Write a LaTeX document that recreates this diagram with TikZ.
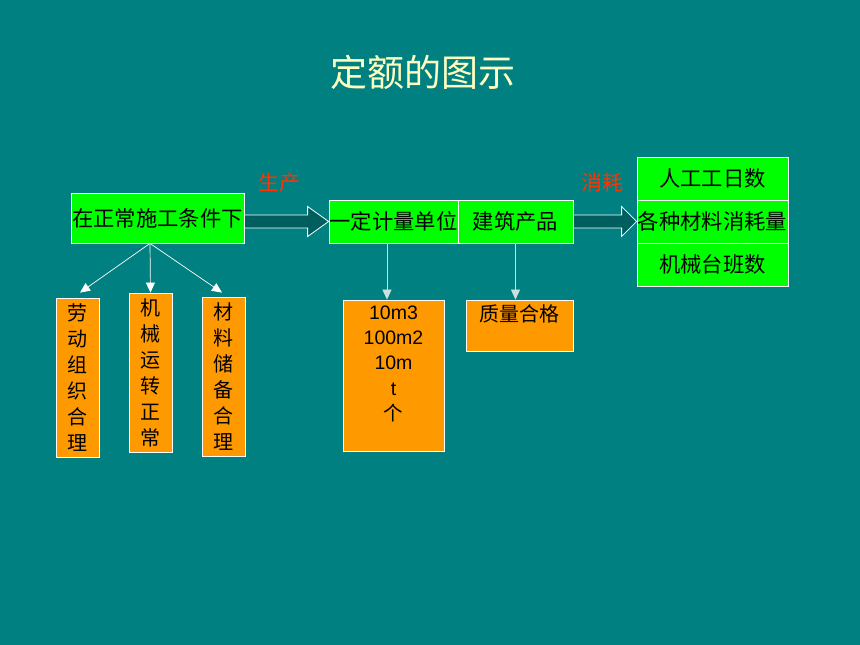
\documentclass[tikz,border=0pt]{standalone}
\usepackage{fontspec}
\setmainfont{Liberation Sans}
\newfontfamily\cjk{Noto Sans CJK SC}
\usetikzlibrary{arrows.meta}
\usetikzlibrary{calc}
\definecolor{bgteal}{rgb}{0,0.5,0.5}
\definecolor{boxgreen}{rgb}{0,1,0}
\definecolor{boxorange}{rgb}{1,0.6,0}
\definecolor{labelred}{rgb}{1,0.2,0}
\definecolor{titleyellow}{rgb}{1,1,0.75}
\definecolor{arrowteal}{rgb}{0,0.37,0.37}
\definecolor{linegrey}{rgb}{0.8,0.88,0.88}

\begin{document}
\begin{tikzpicture}[x=1pt,y=-1pt,line join=miter]
\tikzset{
greenbox/.style={draw=white, fill=boxgreen, line width=0.8pt, inner sep=0pt, text=black, font=\cjk\fontsize{21.3}{24}\selectfont},
orangebox/.style={draw=white, fill=boxorange, line width=0.8pt, inner sep=0pt, text=black, align=center, font=\cjk\fontsize{20}{26}\selectfont},
blockarrow/.style={draw=white, fill=arrowteal, line width=0.8pt},
thinarrow/.style={draw=white, line width=0.7pt, -{Triangle[length=10pt,width=9pt]}},
redlabel/.style={text=labelred, font=\cjk\fontsize{21}{24}\selectfont}
}
\fill[bgteal] (0,0) rectangle (860,645);
\useasboundingbox (0,0) rectangle (860,645);
% title
\node[text=titleyellow, font=\cjk\fontsize{37}{40}\selectfont] (title) at (423,72) {定额的图示};
% top row
\node[greenbox, minimum width=173, minimum height=50] (cond) at (157.5,218) {在正常施工条件下};
\node[greenbox, minimum width=129, minimum height=43] (unit) at (393.5,221.5) {一定计量单位};
\node[greenbox, minimum width=115, minimum height=43] (prod) at (515.5,221.5) {建筑产品};
\node[greenbox, minimum width=151, minimum height=43] (labour) at (712.5,178.5) {人工工日数};
\node[greenbox, minimum width=151, minimum height=43] (material) at (712.5,221.5) {各种材料消耗量};
\node[greenbox, minimum width=151, minimum height=43] (machine) at (712.5,264.5) {机械台班数};
\node[redlabel] (make) at (279,183) {生产};
\node[redlabel] (use) at (602,183) {消耗};
% block arrows
\draw[blockarrow] ($(cond.east|-unit.west)+(0,-6.5)$) -- ($(unit.west)+(-21,-6.5)$) -- ($(unit.west)+(-21,-15)$) -- (unit.west) -- ($(unit.west)+(-21,15)$) -- ($(unit.west)+(-21,6.5)$) -- ($(cond.east|-unit.west)+(0,6.5)$) -- cycle;
\draw[blockarrow] ($(prod.east)+(0,-6.5)$) -- ($(material.west)+(-15,-6.5)$) -- ($(material.west)+(-15,-15)$) -- (material.west) -- ($(material.west)+(-15,15)$) -- ($(material.west)+(-15,6.5)$) -- ($(prod.east)+(0,6.5)$) -- cycle;
% lower boxes
\node[orangebox, minimum width=43, minimum height=159] (org) at (77.5,377.5) {劳\\动\\组\\织\\合\\理};
\node[orangebox, minimum width=43, minimum height=159] (run) at (150.5,372.5) {机\\械\\运\\转\\正\\常};
\node[orangebox, minimum width=43, minimum height=159] (store) at (223.5,376.5) {材\\料\\储\\备\\合\\理};
\node[orangebox, minimum width=101, minimum height=151] (units) at (393.5,375.5) {};
\node[anchor=north, align=center, text=black, font=\fontsize{19.5}{25.3}\selectfont] (unitstext) at ($(units.north)+(0,2.5)$) {10m3\\100m2\\10m\\t\\{\cjk 个}};
\node[orangebox, minimum width=107, minimum height=51] (quality) at (519.5,325.5) {};
\node[anchor=north, text=black, font=\cjk\fontsize{20}{24}\selectfont] (qualitytext) at ($(quality.north)+(0,1.5)$) {质量合格};
% thin arrows
\coordinate (fork) at ($(cond.south)+(-7.5,0)$);
\draw[thinarrow] (fork) -- ($(org.north)+(2.5,-5)$);
\draw[thinarrow] (fork) -- (run.north);
\draw[thinarrow] (fork) -- ($(store.north)+(-1.5,-4)$);
\coordinate (unitfoot) at ($(unit.south)+(-6.5,0)$);
\draw[thinarrow, draw=linegrey] (unitfoot) -- (unitfoot|-units.north);
\draw[thinarrow, draw=linegrey] (prod.south) -- (prod.south|-quality.north);
\end{tikzpicture}
\end{document}
